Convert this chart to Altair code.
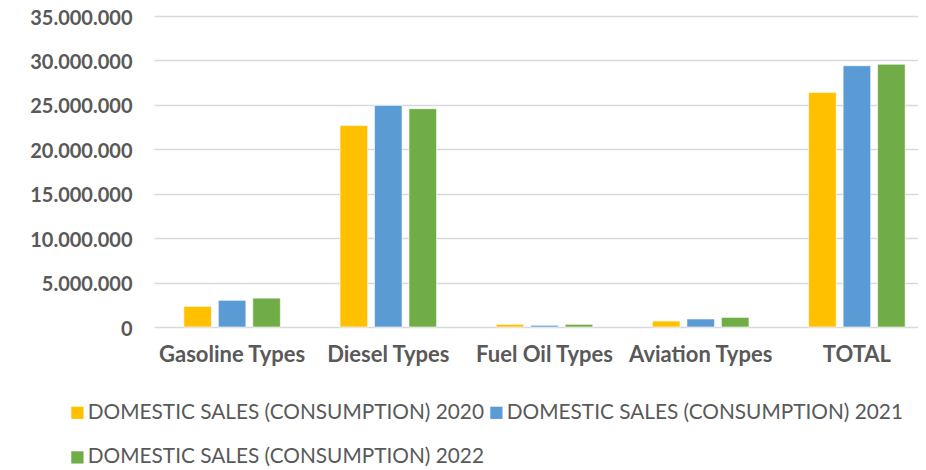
import altair as alt
import pandas as pd

categories = ["Gasoline Types", "Diesel Types", "Fuel Oil Types", "Aviation Types", "TOTAL"]
series = [
    "DOMESTIC SALES (CONSUMPTION) 2020",
    "DOMESTIC SALES (CONSUMPTION) 2021",
    "DOMESTIC SALES (CONSUMPTION) 2022",
]
values_2020 = [2320000, 22670000, 300000, 670000, 26400000]
values_2021 = [3000000, 24940000, 190000, 900000, 29400000]
values_2022 = [3250000, 24570000, 300000, 1080000, 29570000]
colors = ["#FFC000", "#5B9BD5", "#70AD47"]
y_ticks = [0, 5000000, 10000000, 15000000, 20000000, 25000000, 30000000, 35000000]

rows = []
for s, vals in zip(series, [values_2020, values_2021, values_2022]):
    for c, v in zip(categories, vals):
        rows.append({"category": c, "series": s, "value": v})
df = pd.DataFrame(rows)

font = "Lato"
grey = "#595959"

chart = alt.Chart(df).mark_bar(stroke="white", strokeWidth=0.6).encode(
    x=alt.X(
        "category:N",
        sort=categories,
        title=None,
        scale=alt.Scale(range=[4, 785], paddingInner=0.382, paddingOuter=0.191),
        axis=alt.Axis(
            labelAngle=0, labelFont=font, labelFontSize=22, labelFontWeight="bold",
            labelColor=grey, labelPadding=17, ticks=False, domain=False, grid=False,
        ),
    ),
    xOffset=alt.XOffset("series:N", sort=series, scale=alt.Scale(paddingInner=0.2)),
    y=alt.Y(
        "value:Q",
        title=None,
        scale=alt.Scale(domain=[0, 35000000], nice=False),
        axis=alt.Axis(
            values=y_ticks,
            labelExpr="replace(format(datum.value, ','), regexp(',', 'g'), '.')",
            labelFont=font, labelFontSize=20, labelFontWeight="bold", labelColor=grey,
            labelPadding=18, ticks=False, domain=False,
            labelBaseline="alphabetic", labelOffset=8,
            gridColor="#d9d9d9", gridWidth=1.5,
        ),
    ),
    color=alt.Color(
        "series:N",
        sort=series,
        scale=alt.Scale(domain=series, range=colors),
        legend=alt.Legend(
            title=None, orient="none", legendX=-83, legendY=386, columns=2,
            direction="horizontal",
            symbolType="square", symbolSize=150, symbolStrokeWidth=0,
            labelFont=font, labelFontSize=20.8, labelColor=grey, labelLimit=600,
            columnPadding=2, rowPadding=23, labelOffset=0,
        ),
    ),
).properties(
    width=768,
    height=311,
    autosize=alt.AutoSizeParams(type="none"),
    padding={"left": 142, "top": 8, "right": 0, "bottom": 143},
).configure_view(stroke=None)

chart.save("out.html", embed_options={"renderer": "svg", "actions": False})
